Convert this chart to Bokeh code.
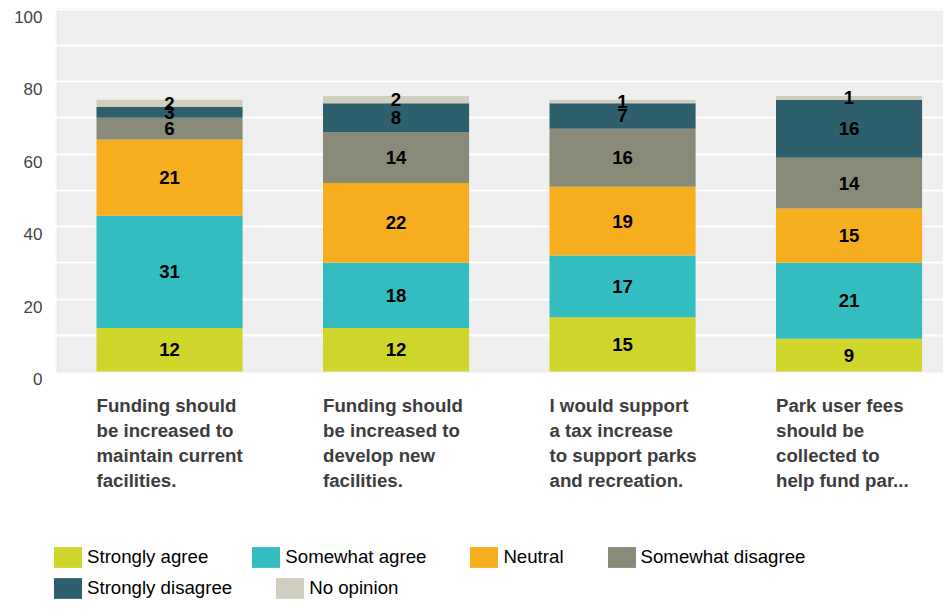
import numpy as np
from bokeh.plotting import figure
from bokeh.models import (ColumnDataSource, Range1d, FixedTicker, Legend, LegendItem,
                          BoxAnnotation)
from bokeh.core.properties import value
from bokeh.embed import file_html
from bokeh.resources import INLINE

categories = [
    "Funding should\nbe increased to\nmaintain current\nfacilities.",
    "Funding should\nbe increased to\ndevelop new\nfacilities.",
    "I would support\na tax increase\nto support parks\nand recreation.",
    "Park user fees\nshould be\ncollected to\nhelp fund par...",
]
series_names = ["Strongly agree", "Somewhat agree", "Neutral",
                "Somewhat disagree", "Strongly disagree", "No opinion"]
strongly_agree = [12, 12, 15, 9]
somewhat_agree = [31, 18, 17, 21]
neutral = [21, 22, 19, 15]
somewhat_disagree = [6, 14, 16, 14]
strongly_disagree = [3, 8, 7, 16]
no_opinion = [2, 2, 1, 1]
colors = ["#cfd52a", "#33bdc0", "#f6ae1f", "#8a8a79", "#2e5f6c", "#d0cebf"]
y_ticks = [0, 20, 40, 60, 80, 100]
grid_ticks = [10, 20, 30, 40, 50, 60, 70, 80, 90, 100]

series_values = [strongly_agree, somewhat_agree, neutral,
                 somewhat_disagree, strongly_disagree, no_opinion]

# layout constants (pixels -> data units)
PX_PER_X = 226.5          # pixels per category step
FRAME_LEFT = 50           # px
BAR_LEFT0 = 96            # px, left edge of first bar
AREA_LEFT = 56.5          # px, left edge of the grey plot area
FIG_W, FIG_H = 943, 601
BAR_W = 0.645
Y_TOP = 100.14
Y_BOTTOM = -63.45
LABEL_SHIFT = 2.1

x_start = -(BAR_LEFT0 - FRAME_LEFT) / PX_PER_X
x_end = x_start + (FIG_W - FRAME_LEFT) / PX_PER_X
area_left = -(BAR_LEFT0 - AREA_LEFT) / PX_PER_X

idx = np.arange(len(categories))
centers = idx + BAR_W / 2

FONT = "Liberation Sans"

p = figure(width=FIG_W, height=FIG_H, output_backend="svg", toolbar_location=None,
           x_range=Range1d(x_start, x_end), y_range=Range1d(Y_BOTTOM, Y_TOP),
           min_border_left=FRAME_LEFT, min_border_right=0, min_border_top=8,
           min_border_bottom=0)
p.background_fill_color = "white"
p.border_fill_color = "white"
p.outline_line_color = None

# grey plotting area (only above zero), with light left/bottom border
p.add_layout(BoxAnnotation(left=area_left, bottom=0, top=Y_TOP + 10, right=x_end + 1,
                           fill_color="#efefef", fill_alpha=1,
                           line_color="#dddddd", line_width=3, level="image"))

# grid
p.xgrid.grid_line_color = None
p.ygrid.ticker = FixedTicker(ticks=grid_ticks)
p.ygrid.grid_line_color = "white"
p.ygrid.grid_line_width = 2

# stacked bars
renderers = []
bottoms = np.zeros(len(categories))
label_x, label_y, label_t = [], [], []
for name, vals, col in zip(series_names, series_values, colors):
    vals = np.array(vals, dtype=float)
    src = ColumnDataSource(dict(x=centers, bottom=bottoms.copy(), top=bottoms + vals))
    r = p.vbar(x="x", bottom="bottom", top="top", width=BAR_W, source=src,
               fill_color=col, line_color=None)
    renderers.append(r)
    for xi, b, v in zip(centers, bottoms, vals):
        label_x.append(xi)
        label_y.append(b + v / 2)
        label_t.append(str(int(v)))
    bottoms = bottoms + vals

lab_src = ColumnDataSource(dict(x=label_x, y=label_y, t=label_t))
p.text(x="x", y="y", text="t", source=lab_src, text_align="center",
       text_baseline="middle", text_font=value(FONT), text_font_style="bold",
       text_font_size="18.67px", text_color="black")

# category labels (left aligned, multi-line) below the bars
cat_src = ColumnDataSource(dict(x=idx, y=np.zeros(len(categories)), t=categories))
p.text(x="x", y="y", text="t", source=cat_src, text_align="left",
       text_baseline="top", y_offset=24, text_font=value(FONT),
       text_font_style="bold", text_font_size="18.67px", text_color="#3d3d3d",
       text_line_height=1.19)

# y axis (labels only; line drawn by the grey area border)
p.xaxis.visible = False
shifted = [t - LABEL_SHIFT for t in y_ticks]
p.yaxis.ticker = FixedTicker(ticks=shifted)
p.yaxis.major_label_overrides = {s: str(t) for s, t in zip(shifted, y_ticks)}
p.yaxis.axis_line_color = None
p.yaxis.major_tick_line_color = None
p.yaxis.minor_tick_line_color = None
p.yaxis.major_tick_out = 0
p.yaxis.major_tick_in = 0
p.yaxis.major_label_standoff = 8
p.yaxis.major_label_text_font = FONT
p.yaxis.major_label_text_font_size = "17px"
p.yaxis.major_label_text_color = "#444444"


def make_legend(items, loc):
    return Legend(items=items, location=loc, orientation="horizontal",
                  background_fill_alpha=0, border_line_color=None,
                  padding=0, margin=0, spacing=40, label_standoff=2,
                  glyph_width=35, glyph_height=26, label_height=26,
                  label_text_font=FONT, label_text_font_size="18.67px",
                  label_text_color="black", label_text_baseline="middle")


items = [LegendItem(label=n, renderers=[r]) for n, r in zip(series_names, renderers)]
p.add_layout(make_legend(items[:4], (0, 31)), "center")
p.add_layout(make_legend(items[4:], (0, 0)), "center")

open("out.html", "w").write(file_html(p, INLINE))
